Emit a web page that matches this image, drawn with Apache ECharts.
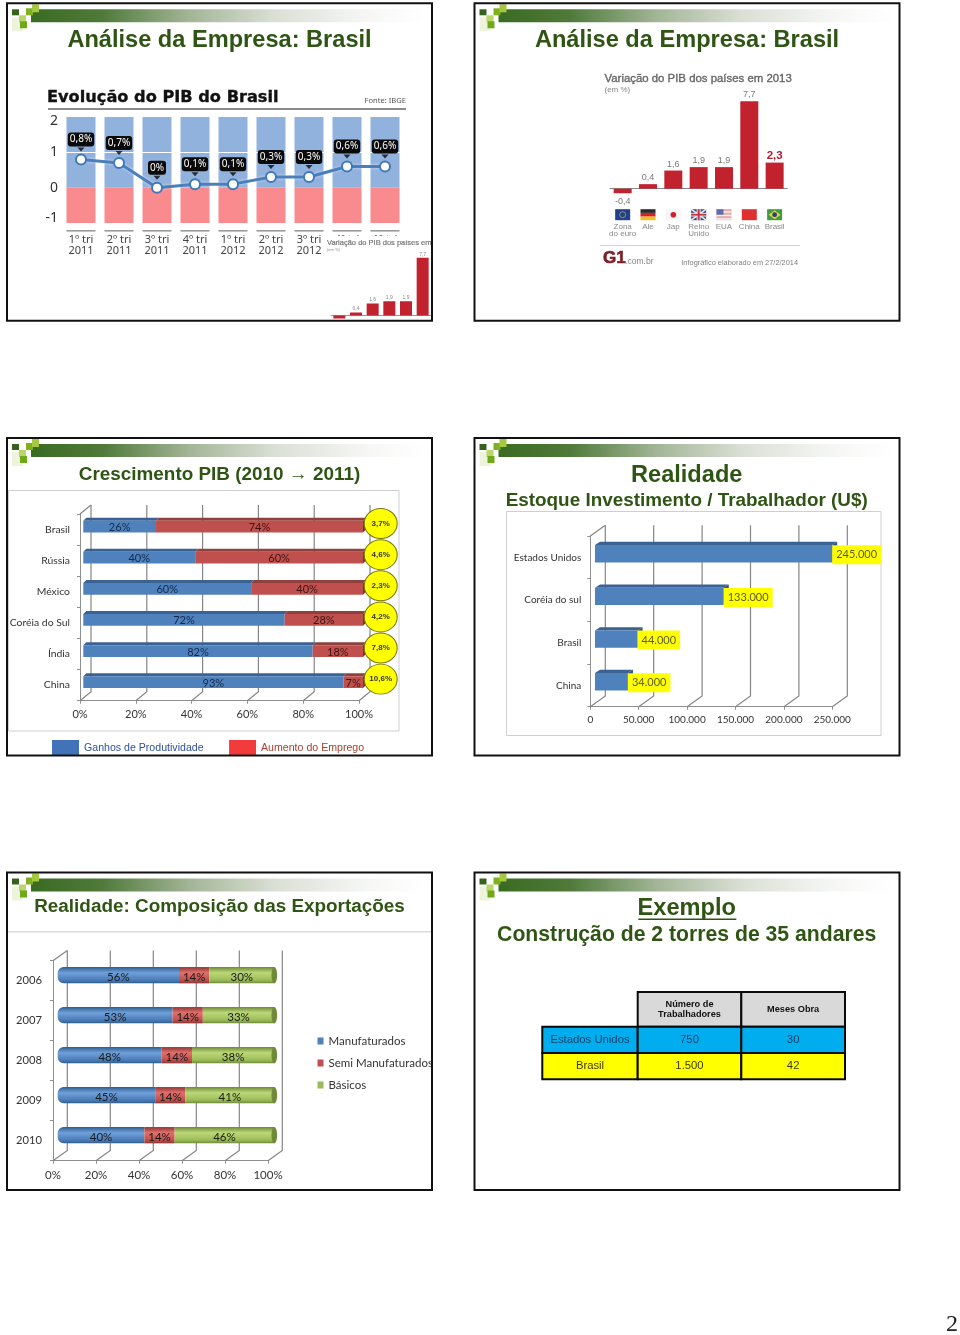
<!DOCTYPE html>
<html><head><meta charset="utf-8">
<style>html,body{margin:0;padding:0;background:#fff}#c{width:960px;height:1335px}</style>
<script src="https://cdn.jsdelivr.net/npm/echarts@6/dist/echarts.min.js"></script>
</head><body><div id="c"></div>
<script>
// ---------- dados ----------
var pibPeriodos = ['1º tri\n2011','2º tri\n2011','3º tri\n2011','4º tri\n2011','1º tri\n2012','2º tri\n2012','3º tri\n2012','4º tri\n2012','1º tri\n2013'];
var pibValores = [0.8,0.7,0,0.1,0.1,0.3,0.3,0.6,0.6];
var pibFaixaPositiva = [2,2,2,2,2,2,2,2,2];
var pibFaixaNegativa = [-1,-1,-1,-1,-1,-1,-1,-1,-1];
var paises2013 = ['Zona\ndo euro','Ale','Jap','Reino\nUnido','EUA','China','Brasil'];
var variacao2013 = [-0.4,0.4,1.6,1.9,1.9,7.7,2.3];
var paisesCrescimento = ['Brasil','Rússia','México','Coréia do Sul','Índia','China'];
var ganhosProdutividade = [26,40,60,72,82,93];
var aumentoEmprego = [74,60,40,28,18,7];
var crescimentoPIB = [3.7,4.6,2.3,4.2,7.8,10.6];
var ticksPercentual = [0,20,40,60,80,100];
var paisesEstoque = ['Estados Unidos','Coréia do sul','Brasil','China'];
var estoqueInvestimento = [245000,133000,44000,34000];
var ticksEstoque = [0,50000,100000,150000,200000,250000];
var anosExportacao = ['2006','2007','2008','2009','2010'];
var manufaturados = [56,53,48,45,40];
var semiManufaturados = [14,14,14,14,14];
var basicos = [30,33,38,41,46];
var tabelaCabecalho = ['','Número de\nTrabalhadores','Meses Obra'];
var tabelaEUA = ['Estados Unidos','750','30'];
var tabelaBrasil = ['Brasil','1.500','42'];

// ---------- utilidades ----------
var AR='"Liberation Sans",Arial,sans-serif', CAL='Lato,"Open Sans",sans-serif', TAH='"Noto Sans",sans-serif';
var VERDE='#2f5514';
var grids=[],xAxes=[],yAxes=[],series=[],titles=[],legends=[],gfx=[];
function addGrid(rect,x,y){var i=grids.length;grids.push(Object.assign({containLabel:false},rect));
  xAxes.push(Object.assign({gridIndex:i},x));yAxes.push(Object.assign({gridIndex:i},y));return i;}
function T(x,y,text,size,color,o){o=o||{};gfx.push({type:'text',z:o.z||20,silent:true,style:{x:x,y:y,text:text,fill:color,
  font:(o.weight||'normal')+' '+size+'px '+(o.family||AR),textAlign:o.align||'left',textVerticalAlign:'middle',align:o.align||'left',verticalAlign:'middle',
  stroke:o.stroke||null,lineWidth:o.lw||0,lineHeight:o.lh}});}
function R(x,y,w,h,fill,stroke,lw,z){gfx.push({type:'rect',z:z||1,silent:true,shape:{x:x,y:y,width:w,height:h},style:{fill:fill||'none',stroke:stroke||null,lineWidth:lw||0}});}
function titulo(cx,top,text,size){titles.push({text:text,left:cx,top:top,textAlign:'center',padding:0,textStyle:{fontFamily:AR,fontWeight:'bold',fontSize:size,color:VERDE}});}
function fmtPct(v){return String(v).replace('.',',')+'%';}
function fmtDec(v){return String(v).replace('.',',');}
function fmtMil(v){return v===0?'0':String(v).replace(/\B(?=(\d{3})+$)/g,'.');}
function hide(){return {show:false};}

// paredes 3D dos gráficos de barras
function parede(g,ticks,dx,dy){
  series.push({type:'custom',name:'parede'+g,xAxisIndex:g,yAxisIndex:g,silent:true,z:1,clip:false,encode:{x:0,y:1},
    data:ticks.map(function(t){return [t,0];}),
    renderItem:function(p,api){var cs=p.coordSys,x=api.coord([api.value(0),0])[0],b=cs.y+cs.height,t=cs.y;
      var kids=[{type:'polyline',shape:{points:[[x,b],[x+dx,b-dy],[x+dx,t-dy]]},style:{stroke:'#858585',lineWidth:1.2,fill:'none'}}];
      if(api.value(0)===0)kids.push({type:'line',shape:{x1:x,y1:t,x2:x+dx,y2:t-dy},style:{stroke:'#858585',lineWidth:1.2}});
      return {type:'group',children:kids};}});
}
// faces superior e lateral das barras
function faces(g,segs,barH,dx,dy,cores,fim){
  series.push({type:'custom',name:'faces'+g,xAxisIndex:g,yAxisIndex:g,silent:true,z:3,clip:false,encode:{x:[0,1],y:2},
    data:segs,renderItem:function(p,api){var a=api.coord([api.value(0),api.value(2)]),b=api.coord([api.value(1),api.value(2)]);
      var y=a[1]-barH/2,c=cores[api.value(3)];
      var kids=[{type:'polygon',shape:{points:[[a[0],y],[b[0],y],[b[0]+dx,y-dy],[a[0]+dx,y-dy]]},style:{fill:c.top}}];
      if(api.value(4)===1)kids.push({type:'polygon',shape:{points:[[b[0],y],[b[0]+dx,y-dy],[b[0]+dx,y-dy+barH],[b[0],y+barH]]},style:{fill:c.side}});
      return {type:'group',children:kids};}});
}

// ---------- molduras das páginas ----------
var origens=[[7,3.3],[474.5,3.3],[7,438],[474.5,438],[7,872.5],[474.5,872.5]];
origens.forEach(function(o){
  var x=o[0],y=o[1];
  gfx.push({type:'rect',z:1,silent:true,shape:{x:x+24,y:y+6,width:395,height:13},style:{fill:{type:'linear',x:0,y:0,x2:1,y2:0,colorStops:[
    {offset:0,color:'#3a6b22'},{offset:.18,color:'#4f7a3a'},{offset:.4,color:'#a2b596'},{offset:.62,color:'#dbe0d6'},{offset:.85,color:'#f6f7f5'},{offset:1,color:'#ffffff'}]}}});
  R(x+5,y+14,11,14,'#eef4dc');R(x+5,y+6,7,6,'#35631e');R(x+19,y+5,7,7,'#7fb01e');R(x+25,y+1,7,8,'#a5c840');R(x+12,y+12,7,7,'#b9d66a');R(x+13,y+18,7,7,'#6fa818');
  gfx.push({type:'rect',z:100,silent:true,shape:{x:x,y:y,width:425,height:317.5},style:{fill:'none',stroke:'#111',lineWidth:2}});
});

// ---------- 1: Evolução do PIB ----------
titulo(219.5,28,'Análise da Empresa: Brasil',23.6);
T(47,97.5,'Evolução do PIB do Brasil',16.2,'#111',{weight:'bold',family:'"DejaVu Sans",sans-serif',stroke:'#111',lw:.35});
T(406,100.5,'Fonte: IBGE',7.6,'#555',{align:'right',family:TAH});
R(48,108,358,2,'#8b8b8b');
var g1=addGrid({left:62,top:117,width:342,height:106},
  {type:'category',data:pibPeriodos,axisLine:hide(),axisTick:hide(),axisLabel:{margin:11,interval:0,fontFamily:TAH,fontSize:11,lineHeight:11,color:'#444'}},
  {type:'value',min:-1,max:2,interval:1,splitLine:hide(),axisLine:hide(),axisTick:hide(),axisLabel:{margin:4,fontFamily:TAH,fontSize:14,lineHeight:9,color:'#333',verticalAlignMaxLabel:'top',verticalAlignMinLabel:'bottom'}});
series.push({type:'bar',name:'Faixa positiva',xAxisIndex:g1,yAxisIndex:g1,data:pibFaixaPositiva,barWidth:29,barGap:'-100%',silent:true,itemStyle:{color:'#92b2de'},z:2,
  markLine:{silent:true,symbol:'none',z:4,label:{show:false},lineStyle:{color:'#fff',width:1,type:'solid'},data:[{yAxis:1}]}});
series.push({type:'bar',name:'Faixa negativa',xAxisIndex:g1,yAxisIndex:g1,data:pibFaixaNegativa,barWidth:29,barGap:'-100%',silent:true,itemStyle:{color:'#f98a8e'},z:2});
series.push({type:'custom',name:'Marcas',xAxisIndex:g1,yAxisIndex:g1,silent:true,clip:false,encode:{x:0,y:1},z:2,
  data:pibPeriodos.map(function(c,i){return [i,-1];}),
  renderItem:function(p,api){var c=api.coord([api.value(0),api.value(1)]);return {type:'rect',shape:{x:c[0]-14.5,y:c[1]+7,width:29,height:1.6},style:{fill:'#9a9a9a'}};}});
series.push({type:'line',name:'PIB',xAxisIndex:g1,yAxisIndex:g1,data:pibValores,z:6,symbol:'circle',symbolSize:10,
  lineStyle:{color:'#4a7fbb',width:3,shadowColor:'rgba(255,255,255,.6)',shadowBlur:3},
  itemStyle:{color:'#fff',borderColor:'#3f78b8',borderWidth:2},
  label:{show:true,position:'top',distance:7,formatter:function(p){return fmtPct(p.value);},color:'#fff',backgroundColor:'#0a0a0a',borderRadius:3,padding:[2,2],fontSize:10,fontFamily:TAH}});
series.push({type:'scatter',name:'Setas',xAxisIndex:g1,yAxisIndex:g1,data:pibValores,z:6,silent:true,symbol:'triangle',symbolRotate:180,symbolSize:[7,4],symbolOffset:[0,-10],itemStyle:{color:'#0a0a0a'}});

// recorte sobreposto no slide 1
R(327,236,104,84,'#fff',null,0,5);
T(327,243,'Variação do PIB dos países em',7.5,'#777',{z:8,stroke:'#777',lw:.2});
T(327,250,'(em %)',4,'#888',{z:8});
var g1b=addGrid({left:331,top:255.5,width:100,height:67.5},
  {type:'category',data:paises2013.slice(0,6),z:10,axisLine:{show:true,onZero:true,lineStyle:{color:'#999'}},axisTick:hide(),axisLabel:{show:false}},
  {type:'value',min:-1,max:8,show:false,z:10});
series.push({type:'bar',name:'Variação recorte',xAxisIndex:g1b,yAxisIndex:g1b,z:10,barWidth:12,clip:true,itemStyle:{color:'#c2212e'},
  data:variacao2013.slice(0,6).map(function(v){return {value:v,label:{show:v>0}};}),
  label:{position:'top',distance:1,fontSize:5,color:'#888',fontFamily:AR,formatter:function(p){return fmtDec(p.value);}}});

// ---------- 2: Variação do PIB 2013 ----------
titulo(687,28,'Análise da Empresa: Brasil',23.6);
T(604.5,79,'Variação do PIB dos países em 2013',11.4,'#666',{stroke:'#666',lw:.35});
T(604.5,89.5,'(em %)',8,'#888');
var g2=addGrid({left:610,top:97.9,width:177.3,height:102.15},
  {type:'category',data:paises2013,axisLine:{show:true,onZero:true,lineStyle:{color:'#888',width:1}},axisTick:hide(),axisLabel:{margin:22.5,interval:0,fontSize:8,lineHeight:7.6,color:'#888',fontFamily:AR}},
  {type:'value',min:-1,max:8,show:false});
series.push({type:'bar',name:'Variação do PIB',xAxisIndex:g2,yAxisIndex:g2,barWidth:18,itemStyle:{color:'#c2212e'},
  data:variacao2013.map(function(v,i){var it={value:v};
    if(v<0)it.label={position:'bottom',distance:4};
    if(paises2013[i]==='Brasil')it.label={color:'#a51f35',fontWeight:'bold',fontSize:11.5,distance:1};
    return it;}),
  label:{show:true,position:'top',distance:2,fontSize:9,color:'#7a7a7a',fontFamily:AR,formatter:function(p){return fmtDec(p.value);}}});
// bandeiras desenhadas na posição de cada país
function bandeira(i,x,y){var w=15,h=11,l=x-w/2,k=[];
  function r(a,b,c,d,f){k.push({type:'rect',shape:{x:l+a,y:y+b,width:c,height:d},style:{fill:f}});}
  if(i===0){r(0,0,w,h,'#1f3f8f');k.push({type:'circle',shape:{cx:x,cy:y+5.5,r:3},style:{fill:'none',stroke:'#c8b84a',lineWidth:.7}});}
  if(i===1){r(0,0,w,3.7,'#2b2b2b');r(0,3.7,w,3.7,'#d0202a');r(0,7.4,w,3.6,'#f0c020');}
  if(i===2){r(0,0,w,h,'#f6f6f6');k.push({type:'circle',shape:{cx:x,cy:y+5.5,r:2.8},style:{fill:'#d3202a'}});}
  if(i===3){r(0,0,w,h,'#3a4d8c');k.push({type:'line',shape:{x1:l,y1:y,x2:l+w,y2:y+h},style:{stroke:'#eee',lineWidth:1.6}});k.push({type:'line',shape:{x1:l,y1:y+h,x2:l+w,y2:y},style:{stroke:'#eee',lineWidth:1.6}});r(5.5,0,4,h,'#eee');r(0,3.7,w,3.6,'#eee');r(6.5,0,2,h,'#c8303a');r(0,4.6,w,1.8,'#c8303a');}
  if(i===4){r(0,0,w,h,'#e8a8a8');r(0,2,w,1.5,'#f2f2f2');r(0,5.5,w,1.5,'#f2f2f2');r(0,9,w,1.5,'#f2f2f2');r(0,0,7,5.5,'#5a70b0');}
  if(i===5){r(0,0,w,h,'#de3030');}
  if(i===6){r(0,0,w,h,'#3f9a40');k.push({type:'polygon',shape:{points:[[x-6,y+5.5],[x,y+1],[x+6,y+5.5],[x,y+10]]},style:{fill:'#e6d030'}});k.push({type:'circle',shape:{cx:x,cy:y+5.5,r:2.4},style:{fill:'#243f8f'}});}
  return k;}
series.push({type:'custom',name:'Bandeiras',xAxisIndex:g2,yAxisIndex:g2,silent:true,clip:false,encode:{x:0,y:1},
  data:paises2013.map(function(c,i){return [i,0];}),
  renderItem:function(p,api){var i=api.value(0),c=api.coord([i,0]);return {type:'group',children:bandeira(i,c[0],c[1]+20.5)};}});
R(600,245,200,1,'#d4d4d4');
T(603,258,'G1',17,'#7d1e26',{weight:'bold',stroke:'#7d1e26',lw:.6});
T(625,261.5,'.com.br',8.6,'#888');
T(798,262.5,'Infográfico elaborado em 27/2/2014',7.4,'#808080',{align:'right'});

// ---------- 3: Crescimento PIB ----------
titulo(219.5,465,'Crescimento PIB (2010 → 2011)',18.9);
R(8.5,490.5,390.5,240.5,null,'#cfcfcf',1,1);
var g3=addGrid({left:80,top:514,width:279,height:186.7},
  {type:'value',min:0,max:100,interval:20,position:'bottom',splitLine:hide(),axisLine:{show:true,onZero:false,lineStyle:{color:'#8f8f8f'}},axisTick:{show:true,length:3,lineStyle:{color:'#8f8f8f'}},
    axisLabel:{margin:8,fontFamily:CAL,fontSize:11,color:'#333',formatter:'{value}%'}},
  {type:'category',inverse:true,data:paisesCrescimento,axisLine:{show:true,lineStyle:{color:'#8f8f8f'}},axisTick:{show:true,length:3,lineStyle:{color:'#8f8f8f'}},
    axisLabel:{margin:10,interval:0,fontFamily:CAL,fontSize:10.4,color:'#333'}});
parede(g3,ticksPercentual,11,9);
var g3b=addGrid({left:83.3,top:511,width:279.7,height:186.7},
  {type:'value',min:0,max:100,show:false},{type:'category',inverse:true,data:paisesCrescimento,show:false});
var segs3=[];paisesCrescimento.forEach(function(c,i){segs3.push([0,ganhosProdutividade[i],i,0,0]);segs3.push([ganhosProdutividade[i],100,i,1,1]);});
faces(g3b,segs3,11.7,3,3,[{top:'#3a6293',side:'#3a6293'},{top:'#90403d',side:'#7b3331'}]);
function lblPct(c){return {show:true,position:'inside',fontFamily:CAL,fontSize:11,color:c,formatter:'{c}%',offset:[0,1]};}
series.push({type:'bar',name:'Ganhos de Produtividade',stack:'a',xAxisIndex:g3b,yAxisIndex:g3b,data:ganhosProdutividade,barWidth:11.7,z:4,itemStyle:{color:'#4f81bd'},label:lblPct('#14294a')});
series.push({type:'bar',name:'Aumento do Emprego',stack:'a',xAxisIndex:g3b,yAxisIndex:g3b,data:aumentoEmprego,barWidth:11.7,z:4,itemStyle:{color:'#c0504d'},label:lblPct('#3d1413')});
series.push({type:'scatter',name:'Crescimento',xAxisIndex:g3b,yAxisIndex:g3b,z:6,symbol:'circle',symbolSize:[33,30],symbolOffset:[17.7,-3],encode:{x:0,y:1},
  data:crescimentoPIB.map(function(v,i){return [100,i,v];}),itemStyle:{color:'#ffff00',borderColor:'#77771a',borderWidth:1,opacity:1},
  label:{show:true,position:'inside',fontFamily:AR,fontWeight:'bold',fontSize:8,color:'#333',formatter:function(p){return fmtPct(p.value[2]);}}});
legends.push({left:52,top:740,padding:0,itemWidth:27,itemHeight:16,itemGap:25.5,selectedMode:false,textStyle:{fontFamily:AR,fontSize:10.6},
  data:[{name:'Ganhos de Produtividade',icon:'rect',itemStyle:{color:'#4272b8'},textStyle:{color:'#2f4f9c'}},{name:'Aumento do Emprego',icon:'rect',itemStyle:{color:'#f23c3c'},textStyle:{color:'#a8402a'}}]});

// ---------- 4: Estoque ----------
titulo(686.7,463,'Realidade',23.6);
titulo(686.7,491,'Estoque Investimento / Trabalhador (U$)',18.9);
R(506.5,511.5,374.5,224,null,'#cfcfcf',1,1);
var g4=addGrid({left:590.3,top:536,width:242,height:170.7},
  {type:'value',min:0,max:250000,interval:50000,position:'bottom',splitLine:hide(),axisLine:{show:true,onZero:false,lineStyle:{color:'#8f8f8f'}},axisTick:{show:true,length:3,lineStyle:{color:'#8f8f8f'}},
    axisLabel:{margin:8,fontFamily:CAL,fontSize:10,color:'#333',formatter:fmtMil}},
  {type:'category',inverse:true,data:paisesEstoque,axisLine:{show:true,lineStyle:{color:'#8f8f8f'}},axisTick:{show:true,length:3,lineStyle:{color:'#8f8f8f'}},
    axisLabel:{margin:9,interval:0,fontFamily:CAL,fontSize:10,color:'#333'}});
parede(g4,ticksEstoque,15,10.7);
var g4b=addGrid({left:595,top:532.4,width:242,height:170.7},
  {type:'value',min:0,max:250000,show:false},{type:'category',inverse:true,data:paisesEstoque,show:false});
faces(g4b,estoqueInvestimento.map(function(v,i){return [0,v,i,0,1];}),17.3,5,3.3,[{top:'#3a6293',side:'#2f5480'}]);
series.push({type:'bar',name:'Estoque',xAxisIndex:g4b,yAxisIndex:g4b,data:estoqueInvestimento,barWidth:17.3,z:4,itemStyle:{color:'#4f81bd'},
  label:{show:true,position:'right',distance:0,offset:[0,1],backgroundColor:'#ffff00',padding:[4,4],color:'#5c5c1e',fontFamily:CAL,fontSize:11,formatter:function(p){return fmtMil(p.value);}}});

// ---------- 5: Exportações ----------
titulo(219.5,897,'Realidade: Composição das Exportações',18.9);
R(8,931,423,1.5,'#dcdcdc');
var g5=addGrid({left:53,top:960.7,width:215,height:200},
  {type:'value',min:0,max:100,interval:20,position:'bottom',splitLine:hide(),axisLine:{show:true,onZero:false,lineStyle:{color:'#8f8f8f'}},axisTick:{show:true,length:3,lineStyle:{color:'#8f8f8f'}},
    axisLabel:{margin:9,fontFamily:CAL,fontSize:11.5,color:'#333',formatter:'{value}%'}},
  {type:'category',inverse:true,data:anosExportacao,axisLine:{show:true,lineStyle:{color:'#8f8f8f'}},axisTick:{show:true,length:3,lineStyle:{color:'#8f8f8f'}},
    axisLabel:{margin:11,interval:0,fontFamily:CAL,fontSize:11.2,color:'#333'}});
parede(g5,ticksPercentual,14.3,10.3);
var g5b=addGrid({left:57.7,top:955.2,width:216.6,height:200},
  {type:'value',min:0,max:100,show:false},{type:'category',inverse:true,data:anosExportacao,show:false});
function cil(a,b,c){return {type:'linear',x:0,y:0,x2:0,y2:1,colorStops:[{offset:0,color:a},{offset:.35,color:b},{offset:.8,color:c},{offset:1,color:a}]};}
function lblExp(){return {show:true,position:'inside',fontFamily:CAL,fontSize:11.5,color:'#1a1a1a',formatter:'{c}%',offset:[0,2]};}
series.push({type:'bar',name:'Manufaturados',stack:'b',xAxisIndex:g5b,yAxisIndex:g5b,data:manufaturados,barWidth:16.3,z:4,itemStyle:{color:cil('#2f5d92','#6fa0d8','#4a7cb8'),borderRadius:[6,0,0,6]},label:lblExp()});
series.push({type:'bar',name:'Semi Manufaturados',stack:'b',xAxisIndex:g5b,yAxisIndex:g5b,data:semiManufaturados,barWidth:16.3,z:4,itemStyle:{color:cil('#8f3633','#e0706c','#c0504d')},label:lblExp()});
series.push({type:'bar',name:'Básicos',stack:'b',xAxisIndex:g5b,yAxisIndex:g5b,data:basicos,barWidth:16.3,z:4,itemStyle:{color:cil('#6f8a38','#bcd878','#9bbb59')},label:lblExp()});
series.push({type:'custom',name:'Tampas',xAxisIndex:g5b,yAxisIndex:g5b,silent:true,clip:false,z:5,encode:{x:0,y:1},
  data:anosExportacao.map(function(a,i){return [100,i];}),
  renderItem:function(p,api){var c=api.coord([api.value(0),api.value(1)]);return {type:'ellipse',shape:{cx:c[0],cy:c[1],rx:2.8,ry:8.15},style:{fill:'#6f8a38'}};}});
legends.push({orient:'vertical',left:317.5,top:1034,padding:0,itemWidth:6,itemHeight:7,itemGap:8,selectedMode:false,textStyle:{fontFamily:CAL,fontSize:11.5,color:'#333',height:14,lineHeight:14},
  data:[{name:'Manufaturados',icon:'rect',itemStyle:{color:'#4f81bd'}},{name:'Semi Manufaturados',icon:'rect',itemStyle:{color:'#c0504d'}},{name:'Básicos',icon:'rect',itemStyle:{color:'#9bbb59'}}]});

// ---------- 6: Tabela ----------
titulo(686.7,896.5,'Exemplo',23.6);
R(638.3,918.5,98,1.6,VERDE,null,0,2);
titulo(686.7,924.5,'Construção de 2 torres de 35 andares',21.2);
var colX=[542.3,637.7,741.3,845], linY=[992,1026.7,1053,1079.3];
[tabelaCabecalho,tabelaEUA,tabelaBrasil].forEach(function(linha,r){
  var fill=['#d9d9d9','#00aeef','#ffff00'][r], txt=['#111','#123f66','#3a3a10'][r];
  linha.forEach(function(t,c){
    if(r===0&&c===0)return;
    R(colX[c],linY[r],colX[c+1]-colX[c],linY[r+1]-linY[r],fill,'#0a0a0a',2,3);
    var cx=(colX[c]+colX[c+1])/2,cy=(linY[r]+linY[r+1])/2;
    if(r===0)t.split('\n').forEach(function(s,i,a){T(cx,cy+(i-(a.length-1)/2)*10.5,s,9.2,txt,{align:'center',weight:'bold'});});
    else T(cx,cy,t,11.3,txt,{align:'center'});
  });
});

T(958,1325,'2',24,'#222',{align:'right',family:'"Liberation Serif",serif'});

var chart=echarts.init(document.getElementById('c'),null,{renderer:'canvas'});
chart.setOption({animation:false,backgroundColor:'#fff',title:titles,legend:legends,grid:grids,xAxis:xAxes,yAxis:yAxes,series:series,graphic:{elements:gfx}});
</script></body></html>
